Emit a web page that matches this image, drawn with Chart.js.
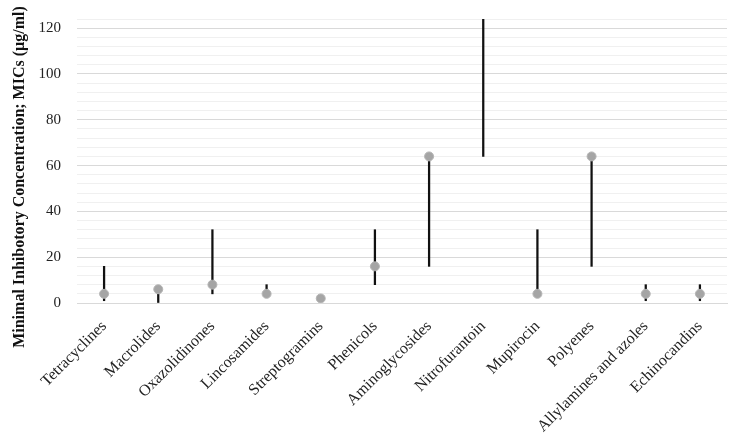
<!DOCTYPE html>
<html>
<head>
<meta charset="utf-8">
<script src="https://cdn.jsdelivr.net/npm/chart.js@4/dist/chart.umd.min.js"></script>
<style>
  html, body { margin: 0; padding: 0; background: #fff; }
  #wrap { width: 736px; height: 439px; position: relative; }
</style>
</head>
<body>
<div id="wrap"><canvas id="chart"></canvas></div>
<script>
const categories = [
  "Tetracyclines", "Macrolides", "Oxazolidinones", "Lincosamides",
  "Streptogramins", "Phenicols", "Aminoglycosides", "Nitrofurantoin",
  "Mupirocin", "Polyenes", "Allylamines and azoles", "Echinocandins"
];
// MIC range (min, max) per class, drawn as thin vertical lines
const rangeMin = [1, 0, 4, 4, null, 8, 16, 64, 4, 16, 1, 1];
const rangeMax = [16, 4, 32, 8, null, 32, 64, 128, 32, 64, 8, 8];
// typical MIC, drawn as grey dots
const micValues = [4, 6, 8, 4, 2, 16, 64, null, 4, 64, 4, 4];

const yTitle = "Minimal Inhibotory Concentration; MICs (\u00b5g/ml)";
const serif = "'Liberation Serif', 'Times New Roman', serif";

const ranges = rangeMin.map((lo, i) => (lo === null ? null : [lo, rangeMax[i]]));

const sideTitle = {
  id: "sideTitle",
  afterDraw(chart) {
    const ctx = chart.ctx;
    ctx.save();
    ctx.translate(20, 177);
    ctx.rotate(-Math.PI / 2);
    ctx.font = "bold 16px " + serif;
    ctx.fillStyle = "#111";
    ctx.textAlign = "center";
    ctx.textBaseline = "middle";
    ctx.fillText(yTitle, 0, 0);
    ctx.restore();
  }
};

new Chart(document.getElementById("chart"), {
  data: {
    labels: categories,
    datasets: [
      {
        type: "line",
        label: "MIC",
        data: micValues,
        showLine: false,
        pointRadius: 4.5,
        pointHoverRadius: 4.5,
        pointBackgroundColor: "#a5a5a5",
        pointBorderColor: "#b5b5b5",
        pointBorderWidth: 1,
        order: 0
      },
      {
        type: "bar",
        label: "Range",
        data: ranges,
        backgroundColor: "#111",
        barThickness: 1.6,
        order: 1
      }
    ]
  },
  options: {
    responsive: true,
    maintainAspectRatio: false,
    animation: false,
    layout: { padding: { left: 39, right: 9, top: 19, bottom: 0 } },
    plugins: {
      legend: { display: false },
      tooltip: { enabled: false }
    },
    scales: {
      x: {
        offset: true,
        grid: { display: false },
        border: { display: true, color: "#d9d9d9", width: 1 },
        ticks: {
          autoSkip: false,
          minRotation: 45,
          maxRotation: 45,
          padding: 6,
          color: "#222",
          font: { family: serif, size: 16 }
        },
        afterFit: (s) => {
          s.paddingLeft = 0;
          s.paddingRight = 0;
          s.height = 136;
        }
      },
      y: {
        min: 0,
        max: 124,
        grid: {
          drawTicks: false,
          color: (c) => (c.tick && c.tick.value % 20 === 0 ? "#d9d9d9" : "#f0f0f0")
        },
        border: { display: false },
        ticks: {
          stepSize: 4,
          autoSkip: false,
          padding: 16,
          color: "#222",
          font: { family: serif, size: 15 },
          callback: (v) => (v % 20 === 0 ? v : "")
        },
        afterFit: (s) => {
          s.paddingTop = 0;
          s.paddingBottom = 0;
          s.width = 38;
        }
      }
    }
  },
  plugins: [sideTitle]
});
</script>
</body>
</html>
